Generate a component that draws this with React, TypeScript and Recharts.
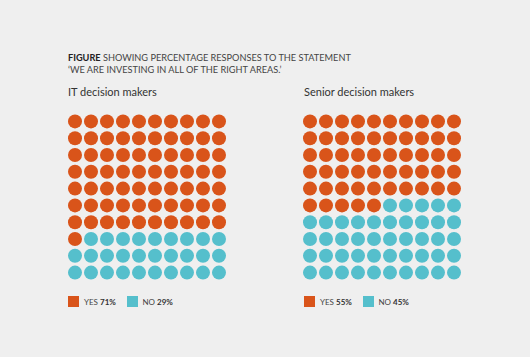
import React from 'react';
import { ScatterChart, Scatter, XAxis, YAxis } from 'recharts';

const groups = ['IT decision makers', 'Senior decision makers'];
const yesValues = [71, 55];
const noValues = [29, 45];
const answers = ['YES', 'NO'];
const colors = ['#d9541a', '#55bfcc'];

const COLS = 10;
const ROWS = 10;

const buildDots = (yes: number) => {
  const dots = [];
  for (let i = 0; i < COLS * ROWS; i++) {
    dots.push({ col: i % COLS, row: Math.floor(i / COLS), answer: i < yes ? 0 : 1 });
  }
  return dots;
};

const Dot = (props: any) => {
  const { cx, cy, payload } = props;
  return <circle cx={cx} cy={cy} r={7} fill={colors[payload.answer]} />;
};

const font = 'Lato, "Open Sans", sans-serif';

const Waffle: React.FC<{ yes: number; left: number; top: number }> = ({ yes, left, top }) => (
  <div style={{ position: 'absolute', left, top }}>
    <ScatterChart width={160} height={168} margin={{ top: 0, right: 0, bottom: 0, left: 0 }}>
      <XAxis type="number" dataKey="col" domain={[-0.5, 9.5]} hide />
      <YAxis type="number" dataKey="row" domain={[-0.5, 9.5]} reversed hide />
      <Scatter data={buildDots(yes)} shape={Dot} isAnimationActive={false} />
    </ScatterChart>
  </div>
);

const groupLeft = [68, 304];
const chartLeft = [67, 302];
const legendOffset = [0, 58.5];

export default function App() {
  return (
    <div
      style={{
        position: 'absolute',
        left: 0,
        top: 0,
        width: 530,
        height: 357,
        background: '#efefef',
        fontFamily: font,
        color: '#444',
      }}
    >
      <div style={{ position: 'absolute', left: 68, top: 51.5, fontSize: 9.2, lineHeight: '12.5px' }}>
        <div>
          <b style={{ color: '#222' }}>FIGURE</b> SHOWING PERCENTAGE RESPONSES TO THE STATEMENT
        </div>
        <div>‘WE ARE INVESTING IN ALL OF THE RIGHT AREAS.’</div>
      </div>
      {groups.map((g, gi) => (
        <React.Fragment key={g}>
          <div style={{ position: 'absolute', left: groupLeft[gi], top: 85, fontSize: 11, color: '#333' }}>{g}</div>
          <Waffle yes={yesValues[gi]} left={chartLeft[gi]} top={113} />
          {[yesValues[gi], noValues[gi]].map((v, ai) => (
            <div
              key={ai}
              style={{
                position: 'absolute',
                left: groupLeft[gi] + legendOffset[ai],
                top: 296,
                height: 11,
                display: 'flex',
                alignItems: 'center',
                fontSize: 8,
                color: '#444',
                whiteSpace: 'nowrap',
              }}
            >
              <div style={{ width: 11, height: 11, background: colors[ai], marginRight: 5 }} />
              <span>
                {answers[ai]} <b style={{ color: '#333' }}>{v}%</b>
              </span>
            </div>
          ))}
        </React.Fragment>
      ))}
    </div>
  );
}
